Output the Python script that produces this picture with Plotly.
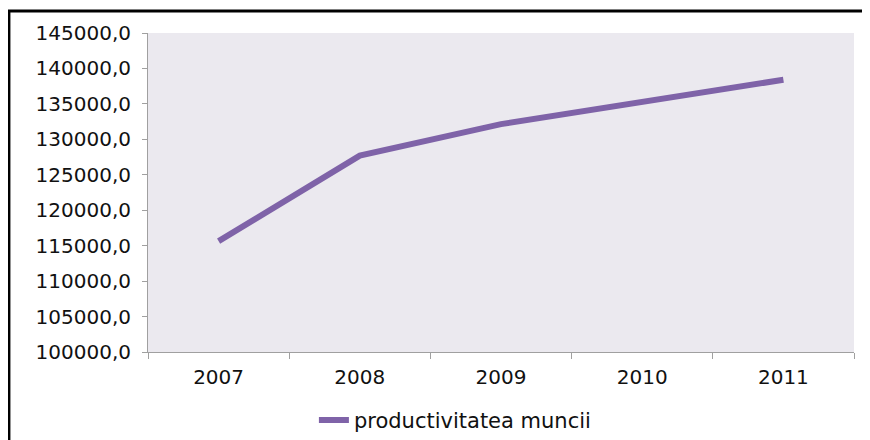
import plotly.graph_objs as go

years = ['2007', '2008', '2009', '2010', '2011']
productivitate = [115650, 127700, 132150, 135300, 138400]
series_name = 'productivitatea muncii'

fig = go.Figure()
fig.add_trace(go.Scatter(x=years, y=productivitate, name=series_name,
                         mode='lines', line=dict(color='#7F63A8', width=6)))

fig.update_xaxes(type='category', range=[-0.5, 4.5], tickson='boundaries', ticks='outside',
                 ticklen=6, tickcolor='#A0A0A0', showline=True, linecolor='#A0A0A0',
                 linewidth=1, showgrid=False, automargin=False,
                 tickfont=dict(family='DejaVu Sans', size=20, color='#111111'),
                 ticklabelstandoff=7)
fig.update_yaxes(range=[100000, 145000], dtick=5000, tickformat='.1f', ticks='outside',
                 ticklen=5, tickcolor='#A0A0A0', showline=True, linecolor='#A0A0A0',
                 linewidth=1, showgrid=False, zeroline=False,
                 tickfont=dict(family='DejaVu Sans', size=20, color='#111111'),
                 automargin=False, ticklabelstandoff=7)

# black frame (only top and left edge visible in the original crop)
fig.add_shape(type='rect', xref='paper', yref='paper',
              x0=-0.197, x1=1.2, y0=-0.5, y1=1.069,
              line=dict(color='black', width=3), layer='above')

# page body has an 8px margin, so the figure is 8px smaller each way
fig.update_layout(width=862, height=432, separators=',.',
                  margin=dict(l=140, r=16, t=25, b=88, autoexpand=False),
                  plot_bgcolor='#EBE9EF', paper_bgcolor='white',
                  showlegend=True,
                  legend=dict(orientation='h', x=0.235, xanchor='left', y=-0.15, yanchor='top',
                              font=dict(family='DejaVu Sans', size=21, color='#111111'),
                              itemwidth=30))

fig.write_html('out.html')
